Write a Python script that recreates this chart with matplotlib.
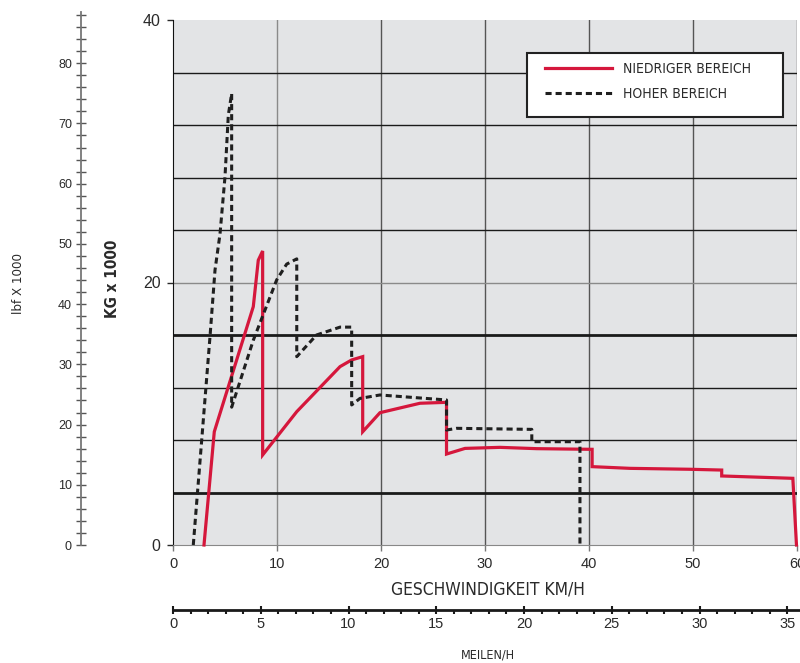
import matplotlib

matplotlib.use("Agg")
import matplotlib.pyplot as plt
from matplotlib.patches import Rectangle
from matplotlib.ticker import MultipleLocator

# speed (km/h) vs tractive force (kg x 1000)
low_kmh = [2.98, 3.97, 7.72, 8.2, 8.62, 8.62, 11.9, 16.06, 17.18, 18.24, 18.24,
           19.9, 23.75, 26.3, 26.3, 28.08, 31.44, 34.97, 40.3, 40.3, 43.94,
           49.7, 52.76, 52.76, 59.6, 59.95]
low_kg = [0, 8.63, 18.16, 21.7, 22.4, 6.86, 10.16, 13.59, 14.1, 14.35, 8.63,
          10.08, 10.8, 10.87, 6.93, 7.36, 7.44, 7.34, 7.29, 5.97, 5.84,
          5.77, 5.71, 5.26, 5.08, 0]

high_kmh = [1.95, 3.56, 4.04, 4.52, 5.0, 5.32, 5.64, 5.64, 7.72, 9.97, 10.93,
            11.9, 11.9, 13.8, 16.06, 17.18, 17.18, 17.98, 19.9, 22.1, 26.3,
            26.3, 27.28, 34.5, 34.5, 39.13, 39.13]
high_kg = [0, 15.9, 20.95, 23.7, 28.06, 32.76, 34.4, 10.5, 15.6, 20.2, 21.4,
           21.8, 14.35, 16.0, 16.6, 16.6, 10.67, 11.17, 11.43, 11.3, 11.05,
           8.76, 8.89, 8.81, 7.87, 7.87, 0]

labels = ["NIEDRIGER BEREICH", "HOHER BEREICH"]
kmh_ticks = [0, 10, 20, 30, 40, 50, 60]
kg_ticks = [0, 20, 40]
kg_grid = [4, 8, 12, 16, 20, 24, 28, 32, 36]
kg_bold = [4, 16]
mph_ticks = [0, 5, 10, 15, 20, 25, 30, 35]
lbf_ticks = [0, 10, 20, 30, 40, 50, 60, 70, 80]

RED = "#d5173c"
INK = "#2a2a2a"
plt.rcParams["font.family"] = ["Liberation Sans", "DejaVu Sans"]
# narrow caption font (DejaVu Sans Condensed)
COND = {"family": "DejaVu Sans", "stretch": "condensed"}

W, H = 800, 663


def rect(x0, y0, x1, y1):
    # pixel box -> figure fraction
    return [x0 / W, 1 - y1 / H, (x1 - x0) / W, (y1 - y0) / H]


fig = plt.figure(figsize=(W / 100, H / 100), dpi=100)

# ---- main chart ------------------------------------------------------------
ax = fig.add_axes(rect(173, 20, 797, 545))
ax.set_facecolor("#e3e4e6")
ax.set_xlim(0, 60)
ax.set_ylim(0, 40)
ax.set_xticks(kmh_ticks)
ax.set_yticks(kg_ticks)
ax.tick_params(labelsize=10.5, colors=INK, length=4, width=1, pad=5)
ax.tick_params(axis="y", labelsize=11.5)
ax.tick_params(axis="x", colors="#777777", labelcolor=INK)
for s in ("top", "right"):
    ax.spines[s].set_visible(False)
ax.spines["left"].set_color("#111111")
ax.spines["bottom"].set_color("#888888")

for v in kmh_ticks[1:]:
    ax.axvline(v, color="#555555" if v != 10 else "#8a8a8a", lw=1, zorder=1)
for v in kg_grid:
    if v in kg_bold:
        ax.axhline(v, color="#1a1a1a", lw=2, zorder=1)
    elif v == 20:
        ax.axhline(v, color="#8a8a8a", lw=1, zorder=1)
    else:
        ax.axhline(v, color="#1a1a1a", lw=1, zorder=1)

ax.plot(low_kmh, low_kg, color=RED, lw=2.3, label=labels[0], zorder=3,
        clip_on=False, solid_joinstyle="miter")
ax.plot(high_kmh, high_kg, color="#1f1f1f", lw=2.2, ls=(0, (2.0, 1.3)),
        label=labels[1], zorder=4, clip_on=False)

# legend box
ax.add_patch(Rectangle((0.567, 0.815), 0.411, 0.122, transform=ax.transAxes,
                       facecolor="white", edgecolor="#222222", lw=1.5, zorder=5))
leg = ax.legend(loc="upper left", bbox_to_anchor=(0.596, 0.92), frameon=False,
                borderpad=0, borderaxespad=0, handlelength=4.8,
                handletextpad=0.85, labelspacing=0.8,
                prop=dict(COND, size=10))
leg.set_zorder(6)
for t in leg.get_texts():
    t.set_color(INK)

# ---- lbf scale on the far left ----------------------------------------------
axl = fig.add_axes(rect(81, 12, 82, 545))
axl.set_ylim(0, 88.5)
axl.set_xticks([])
axl.set_yticks(lbf_ticks)
axl.yaxis.set_minor_locator(MultipleLocator(2))
axl.tick_params(axis="y", which="both", direction="inout", length=7,
                width=1, colors="#555555", labelcolor=INK, labelsize=9, pad=3)
for s in ("top", "right", "bottom"):
    axl.spines[s].set_visible(False)
axl.spines["left"].set_color("#777777")
axl.spines["left"].set_linewidth(1.3)
axl.patch.set_alpha(0)

# ---- mph scale under the main chart -----------------------------------------
axm = fig.add_axes(rect(173, 609, 800, 610))
axm.set_xlim(0, (800 - 173) / 17.55)
axm.set_yticks([])
axm.set_xticks(mph_ticks)
axm.xaxis.set_minor_locator(MultipleLocator(1))
axm.tick_params(axis="x", which="major", direction="inout", length=6,
                width=1.5, colors="#1a1a1a", labelcolor=INK, labelsize=10.5, pad=2)
axm.tick_params(axis="x", which="minor", direction="out", length=3,
                width=1.5, colors="#1a1a1a")
for s in ("top", "right", "left"):
    axm.spines[s].set_visible(False)
axm.spines["bottom"].set_linewidth(2)
axm.spines["bottom"].set_color("#1a1a1a")
axm.patch.set_alpha(0)

# ---- axis titles --------------------------------------------------------------
fig.text(113 / W, 1 - 279 / H, "KG x 1000", rotation=90, ha="center",
         va="center", size=11, weight="bold", color=INK, **COND)
fig.text(18 / W, 1 - 283 / H, "lbf X 1000", rotation=90, ha="center",
         va="center", size=9.5, color=INK, **COND)
fig.text(488 / W, 1 - 590 / H, "GESCHWINDIGKEIT KM/H", ha="center",
         va="center", size=12.5, color=INK, **COND)
fig.text(488 / W, 1 - 655 / H, "MEILEN/H", ha="center", va="center",
         size=9, color=INK, **COND)

fig.savefig("out.png", dpi=100)
